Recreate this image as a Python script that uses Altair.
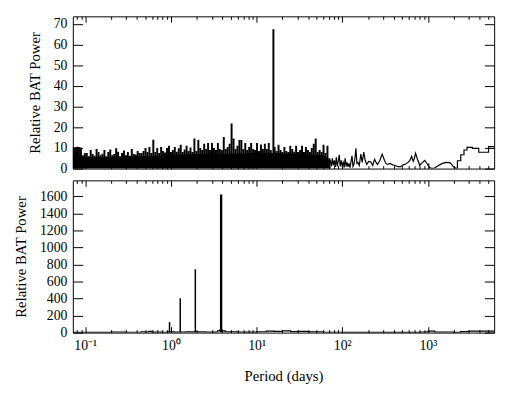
import altair as alt
import pandas as pd

# ---------------- data ----------------
# top panel: dense (short-period) part of the periodogram
dense_period = [0.072, 0.0759, 0.0800, 0.0843, 0.0889, 0.0937, 0.0987, 0.104, 0.1097, 0.1156,
                0.1218, 0.1284, 0.1354, 0.1427, 0.1504, 0.1585, 0.1671, 0.1761, 0.1856, 0.1956,
                0.2062, 0.2173, 0.2291, 0.2414, 0.2545, 0.2682, 0.2827, 0.298, 0.3141, 0.331,
                0.3489, 0.3678, 0.3876, 0.4086, 0.4306, 0.4539, 0.4784, 0.5042, 0.5315, 0.5602,
                0.5904, 0.6223, 0.6559, 0.6913, 0.7287, 0.768, 0.8095, 0.8532, 0.8993, 0.9479,
                0.999, 1.053, 1.110, 1.170, 1.233, 1.300, 1.370, 1.444, 1.522, 1.604,
                1.691, 1.782, 1.878, 1.980, 2.087, 2.199, 2.318, 2.443, 2.575, 2.714,
                2.861, 3.015, 3.178, 3.350, 3.531, 3.721, 3.922, 4.134, 4.357, 4.593,
                4.841, 5.102, 5.378, 5.668, 5.974, 6.297, 6.637, 6.995, 7.373, 7.771,
                8.191, 8.633, 9.099, 9.591, 10.11, 10.65, 11.23, 11.83, 12.47, 13.15,
                13.86, 14.61, 15.7, 16.22, 17.10, 18.02, 19.0, 20.02, 21.1, 22.24,
                23.44, 24.71, 26.04, 27.45, 28.93, 30.49, 32.14, 33.88, 35.71, 37.63,
                39.67, 41.81, 44.07, 46.45, 48.95, 51.6, 54.38, 57.32, 60.42, 63.68,
                67.12, 70.74]
dense_power = [10.5, 10.3, 10.6, 10.4, 10.2, 6.5, 7.5,
               7.5, 6.0, 9.0, 7.0, 6.2, 9.5, 8.0, 6.5, 7.2, 9.0, 6.0, 8.0, 9.2, 6.5,
               7.0, 9.8, 8.2, 6.0, 7.5, 8.8, 6.5, 8.0, 6.2, 9.5, 7.0, 6.8, 8.5, 7.5,
               7.5, 8.5, 10.0, 8.0, 10.5, 7.5, 14.0,
               8.0, 10.0, 7.5, 10.5, 8.5, 7.8, 10.0, 11.0, 8.0, 9.0, 10.5, 8.2, 9.8, 11.5,
               8.0, 9.2, 11.0, 8.5, 10.2, 8.0,
               14.6, 8.5, 13.8, 10.0, 9.0, 12.0,
               9.5, 12.4, 9.0, 12.4, 10.0, 9.0, 12.4, 9.5, 9.0, 15.3, 9.5, 10.5, 12.0,
               21.8,
               14.6, 9.5, 11.0, 13.8, 13.8, 9.5, 12.4, 9.0, 10.5,
               12.4, 9.5, 9.0, 12.4, 8.5, 11.6, 9.5, 12.0, 9.5,
               12.4, 9.0, 67.5,
               10.5, 8.5, 11.5, 9.0, 8.0, 10.5, 8.5, 8.0, 11.0, 9.5, 8.2, 11.0, 8.0, 9.0,
               11.0, 8.0, 10.5, 9.0, 8.0, 10.0,
               12.0, 14.6, 8.0, 9.0, 8.0, 11.5, 7.5, 11.0, 5.0]
# solid lower envelope of the dense part
floor_period = [0.072, 0.1, 0.2, 0.4, 0.7, 1.0, 2.0, 4.0, 8.0, 15, 30, 60, 68, 72]
floor_power = [6.0, 5.5, 5.5, 6.0, 6.0, 6.5, 7.0, 7.0, 7.5, 7.5, 7.0, 6.5, 5.0, 3.0]

# top panel: long-period part (line, then histogram steps)
smooth_period = [72.6, 74.5, 76.5, 78.6, 80.7, 82.9, 85.1, 87.4, 89.7, 92.1, 94.5, 97.0,
                 99.7, 102.5, 105.2, 108.0, 111.0, 113.8, 116.8, 120.0, 123.0, 126.5, 129.9,
                 133.4, 136.9, 140.5, 144.3, 148.2, 152.2, 158.0, 164.7, 171.0, 178.3, 185.0,
                 193.0, 203.0, 214.5, 226.2, 238.4, 248.0, 258.0, 275.0, 292.2, 310.5, 323.0,
                 336.0, 360.0, 383.5, 410.0, 437.6, 473.7, 512.8, 550.0, 585.0, 615.0, 645,
                 673, 695, 717, 762, 803, 840, 869, 917, 966, 1046, 1103, 1193,
                 1327, 1475, 1639, 1821, 2024, 2151]
smooth_power = [4.0, 1.0, 5.0, 1.5, 4.0, 0.8, 5.5, 1.0, 3.5, 6.7, 1.0, 4.0,
                1.5, 3.0, 0.5, 5.0, 1.0, 3.0, 0.8, 2.5, 0.5, 3.5, 6.2,
                1.0, 2.0, 5.0, 9.8, 2.5, 3.0, 1.5, 7.0, 3.0, 8.0, 4.0,
                2.0, 3.5, 3.3, 1.5, 4.5, 3.0, 2.0, 4.0, 7.0, 4.0, 2.5,
                2.0, 2.5, 1.9, 1.5, 1.1, 0.8, 1.8, 2.2, 3.0, 4.0, 5.9,
                3.5, 5.0, 7.4, 4.0, 1.5, 2.5, 3.0, 4.0, 2.7, 0.5, 0.1, 0.3,
                1.5, 2.5, 3.0, 2.8, 0.5, 0.1]
step_period = [2151, 2208, 2416, 2636, 2853, 3298, 3918, 5104, 5930]
step_power = [0.1, 3.8, 6.7, 9.0, 10.3, 9.8, 7.9, 10.6, 10.6]

# bottom panel: harmonic spikes and low baseline
spike_period = [0.962, 1.283, 1.925, 3.85]
spike_power = [125, 405, 745, 1625]
base_period = [0.072, 0.1, 0.2, 0.3, 0.45, 0.5, 0.55, 0.6, 0.8, 0.9, 1.1, 1.5, 2.5, 3.5, 3.7,
               4.0, 4.3, 6, 10, 13, 16, 20, 25, 30, 40, 60, 100, 300, 800, 1000, 1200, 2000,
               2400, 3000, 5930]
base_power = [4, 3, 5, 4, 10, 6, 14, 5, 4, 8, 6, 8, 6, 20, 30,
              20, 8, 6, 10, 18, 14, 20, 12, 15, 8, 4, 3, 3, 6, 18, 6, 3,
              12, 18, 18]

x_domain = [0.0715, 5930]
top_domain = [0, 73.7]
bot_domain = [0, 1790]
x_major = [0.1, 1, 10, 100, 1000]
x_minor = [0.08, 0.09, 0.2, 0.3, 0.4, 0.5, 0.6, 0.7, 0.8, 0.9,
           2, 3, 4, 5, 6, 7, 8, 9, 20, 30, 40, 50, 60, 70, 80, 90,
           200, 300, 400, 500, 600, 700, 800, 900, 2000, 3000, 4000, 5000]
top_ticks = [0, 10, 20, 30, 40, 50, 60, 70]
bot_ticks = [0, 200, 400, 600, 800, 1000, 1200, 1400, 1600]

# ---------------- chart ----------------
W, H = 429, 155
FONT = "Liberation Serif"
xs = alt.Scale(type="log", domain=x_domain, nice=False)

label_expr = ("datum.value < 0.5 ? '10⁻¹' : datum.value < 5 ? '10⁰' : "
              "datum.value < 50 ? '10¹' : datum.value < 500 ? '10²' : '10³'")


def tick_layers(ys, y_dom, y_ticks):
    inv = pd.DataFrame({"p": x_domain, "v": y_dom})
    common = dict(labels=False, domain=False, grid=False, title=None,
                  tickColor="black", tickWidth=1)

    def lay(xa, ya):
        return alt.Chart(inv).mark_point(opacity=0).encode(
            x=alt.X("p:Q", scale=xs, axis=xa),
            y=alt.Y("v:Q", scale=ys, axis=ya))

    return [
        lay(alt.Axis(orient="top", offset=-H, values=x_major, tickSize=6, **common),
            alt.Axis(orient="right", offset=-W, values=y_ticks, tickSize=10, **common)),
        lay(alt.Axis(orient="bottom", offset=-H, values=x_major, tickSize=6, **common),
            alt.Axis(orient="left", offset=-W, values=y_ticks, tickSize=10, **common)),
        lay(alt.Axis(orient="top", offset=-H, values=x_minor, tickSize=3, **common), None),
        lay(alt.Axis(orient="bottom", offset=-H, values=x_minor, tickSize=3, **common), None),
    ]


def y_label_axis(vals):
    return alt.Axis(orient="left", values=vals, ticks=False, domain=False, grid=False,
                    format="d", labelPadding=6, title="Relative BAT Power", titlePadding=11)


# top panel
ys_top = alt.Scale(domain=top_domain, nice=False, zero=True)
df_dense = pd.DataFrame({"p": dense_period, "v": dense_power})
df_floor = pd.DataFrame({"p": floor_period, "v": floor_power})
df_smooth = pd.DataFrame({"p": smooth_period, "v": smooth_power})
df_step = pd.DataFrame({"p": step_period, "v": step_power})

top_floor = alt.Chart(df_floor).mark_area(color="black", clip=True).encode(
    x=alt.X("p:Q", scale=xs, axis=None),
    y=alt.Y("v:Q", scale=ys_top, axis=y_label_axis(top_ticks)))
top_rules = alt.Chart(df_dense).mark_rule(color="black", clip=True).encode(
    x=alt.X("p:Q", scale=xs, axis=None),
    y=alt.Y("v:Q", scale=ys_top, axis=None),
    y2=alt.datum(0),
    strokeWidth=alt.value(2.0))
top_smooth = alt.Chart(df_smooth).mark_line(color="black", strokeWidth=1.2, clip=True).encode(
    x=alt.X("p:Q", scale=xs, axis=None),
    y=alt.Y("v:Q", scale=ys_top, axis=None))
top_step = alt.Chart(df_step).mark_line(color="black", strokeWidth=1.2, clip=True,
                                         interpolate="step-after").encode(
    x=alt.X("p:Q", scale=xs, axis=None),
    y=alt.Y("v:Q", scale=ys_top, axis=None))

top = alt.layer(top_floor, top_rules, top_smooth, top_step,
                *tick_layers(ys_top, top_domain, top_ticks)).resolve_axis(
    x="independent", y="independent").properties(width=W, height=H)

# bottom panel
ys_bot = alt.Scale(domain=bot_domain, nice=False, zero=True)
df_spike = pd.DataFrame({"p": spike_period, "v": spike_power})
df_base = pd.DataFrame({"p": base_period, "v": base_power})

bot_base = alt.Chart(df_base).mark_line(color="black", strokeWidth=1.2, clip=True,
                                         interpolate="step-after").encode(
    x=alt.X("p:Q", scale=xs,
            axis=alt.Axis(orient="bottom", values=x_major, labelExpr=label_expr, ticks=False,
                          domain=False, grid=False, labelPadding=6, title="Period (days)",
                          titlePadding=17)),
    y=alt.Y("v:Q", scale=ys_bot, axis=y_label_axis(bot_ticks)))
bot_spikes = alt.Chart(df_spike).mark_rule(color="black", clip=True).encode(
    x=alt.X("p:Q", scale=xs, axis=None),
    y=alt.Y("v:Q", scale=ys_bot, axis=None),
    y2=alt.datum(0),
    strokeWidth=alt.condition(alt.datum.v > 1000, alt.value(2.4), alt.value(1.5)))

bottom = alt.layer(bot_base, bot_spikes, *tick_layers(ys_bot, bot_domain, bot_ticks)).resolve_axis(
    x="independent", y="independent").properties(width=W, height=H)

chart = alt.vconcat(top, bottom, spacing=0).properties(
    padding={"left": 5, "top": 1, "right": 5, "bottom": 5}
).configure_view(
    stroke="black", strokeWidth=1
).configure_axis(
    labelFont=FONT, titleFont=FONT, labelFontSize=14, titleFontSize=15,
    titleFontWeight="normal", labelColor="black", titleColor="black"
)

chart.save("out.html", embed_options={"renderer": "svg", "actions": False})
